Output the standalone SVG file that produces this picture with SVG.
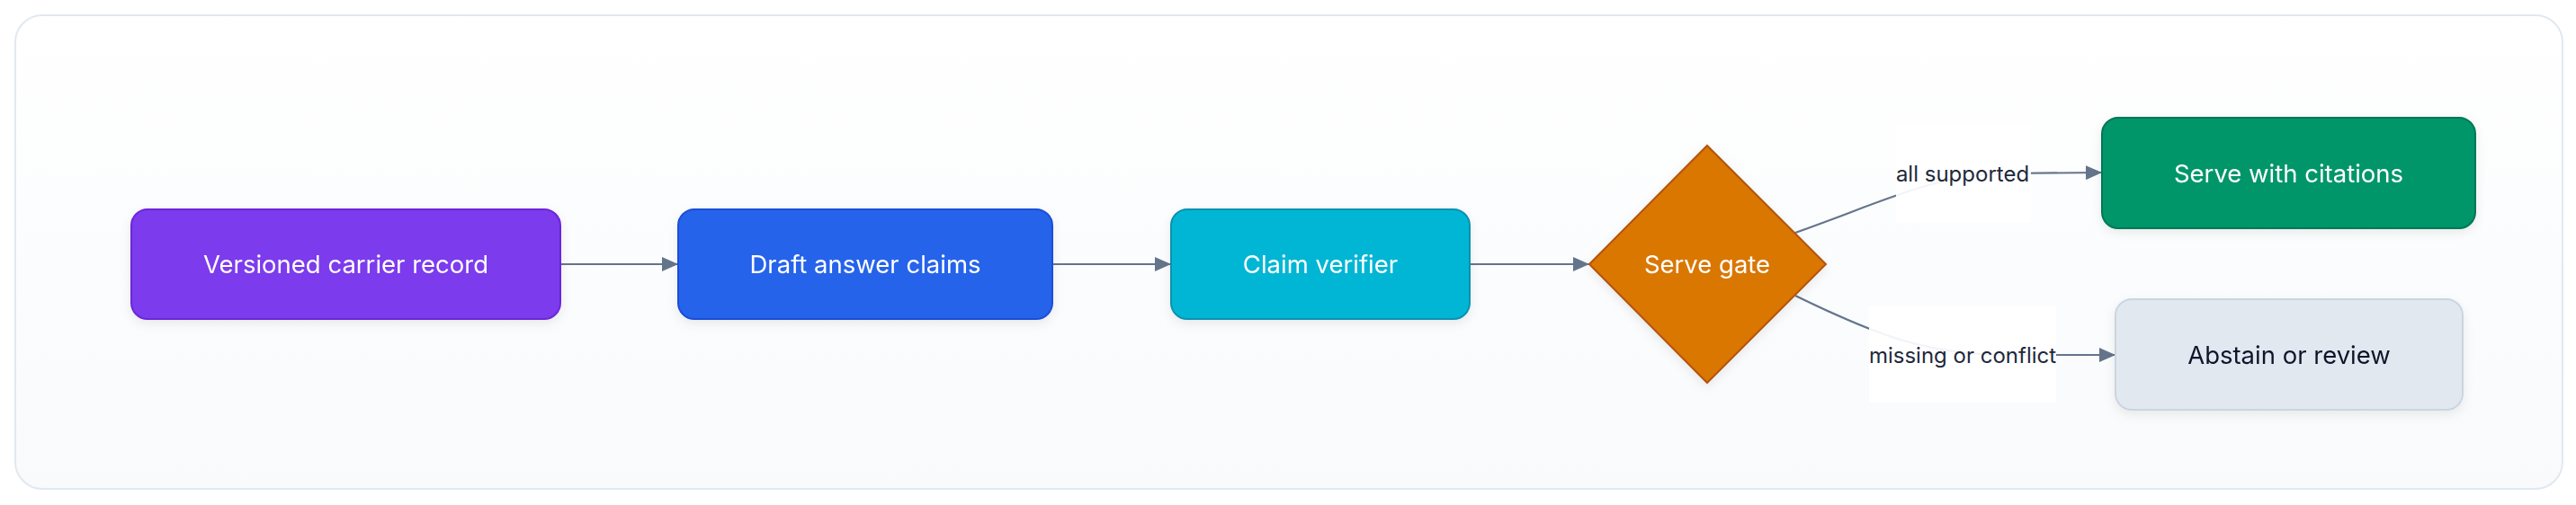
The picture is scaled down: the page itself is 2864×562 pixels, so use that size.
<svg xmlns="http://www.w3.org/2000/svg" width="2864" height="562" viewBox="0 0 2864 562">
<style>
.lbl{font-family:Inter,"Liberation Sans",sans-serif;font-size:27.5px;text-anchor:middle;dominant-baseline:central}
.w{fill:#ffffff}
.d{fill:#0f172a}
.el{font-family:Inter,"Liberation Sans",sans-serif;font-size:24px;text-anchor:middle;dominant-baseline:central;fill:#1e293b}
.edge{fill:none;stroke:#64748b;stroke-width:2.2}
.lbg{fill:#ffffff;opacity:0.92}
</style>
<defs>
<linearGradient id="bg" x1="0" y1="0" x2="0" y2="1">
<stop offset="0" stop-color="#ffffff"/>
<stop offset="1" stop-color="#f8fafc"/>
</linearGradient>
<filter id="sh" x="-20%" y="-30%" width="140%" height="170%">
<feDropShadow dx="0" dy="4" stdDeviation="6" flood-color="#0f172a" flood-opacity="0.08"/>
</filter>
<marker id="arrow" viewBox="0 0 18 16" refX="18" refY="8" markerWidth="18" markerHeight="16" markerUnits="userSpaceOnUse" orient="auto">
<path d="M0,0 L18,8 L0,16 z" fill="#64748b"/>
</marker>
</defs>
<rect id="panel" x="17" y="17" width="2832" height="527" rx="30" fill="url(#bg)" stroke="#e2e8f0" stroke-width="2"/>
<g id="connectors">
<path class="edge" d="M623,294 L754,294" marker-end="url(#arrow)"/>
<path class="edge" d="M1170,294 L1302,294" marker-end="url(#arrow)"/>
<path class="edge" d="M1634,294 L1767,294" marker-end="url(#arrow)"/>
<path class="edge" d="M1996,259 C2090,226 2150,194 2230,193 L2337,192" marker-end="url(#arrow)"/>
<path class="edge" d="M1996,329 C2080,370 2140,395 2230,395 L2352,395" marker-end="url(#arrow)"/>
<g id="label-supported">
<rect class="lbg" x="2108" y="138" width="150" height="110"/>
<text class="el" x="2182" y="193">all supported</text>
</g>
<g id="label-missing">
<rect class="lbg" x="2078" y="340" width="208" height="108"/>
<text class="el" x="2182" y="395">missing or conflict</text>
</g>
</g>
<g id="n1" filter="url(#sh)">
<rect x="146" y="233" width="477" height="122" rx="18" fill="#7c3aed" stroke="#6d28d9" stroke-width="2"/>
<text class="lbl w" x="384.5" y="294">Versioned carrier record</text>
</g>
<g id="n2" filter="url(#sh)">
<rect x="754" y="233" width="416" height="122" rx="18" fill="#2563eb" stroke="#1d4ed8" stroke-width="2"/>
<text class="lbl w" x="962" y="294">Draft answer claims</text>
</g>
<g id="n3" filter="url(#sh)">
<rect x="1302" y="233" width="332" height="122" rx="18" fill="#06b6d4" stroke="#0891b2" stroke-width="2"/>
<text class="lbl w" x="1468" y="294">Claim verifier</text>
</g>
<g id="gate" filter="url(#sh)">
<path d="M1898,162 L2030,294 L1898,426 L1767,294 z" fill="#d97706" stroke="#b45309" stroke-width="2"/>
<text class="lbl w" x="1898" y="294">Serve gate</text>
</g>
<g id="serve" filter="url(#sh)">
<rect x="2337" y="131" width="415" height="123" rx="18" fill="#059669" stroke="#047857" stroke-width="2"/>
<text class="lbl w" x="2544.5" y="193">Serve with citations</text>
</g>
<g id="abstain" filter="url(#sh)">
<rect x="2352" y="333" width="386" height="123" rx="18" fill="#e2e8f0" stroke="#cbd5e1" stroke-width="2"/>
<text class="lbl d" x="2545" y="395">Abstain or review</text>
</g>
</svg>
